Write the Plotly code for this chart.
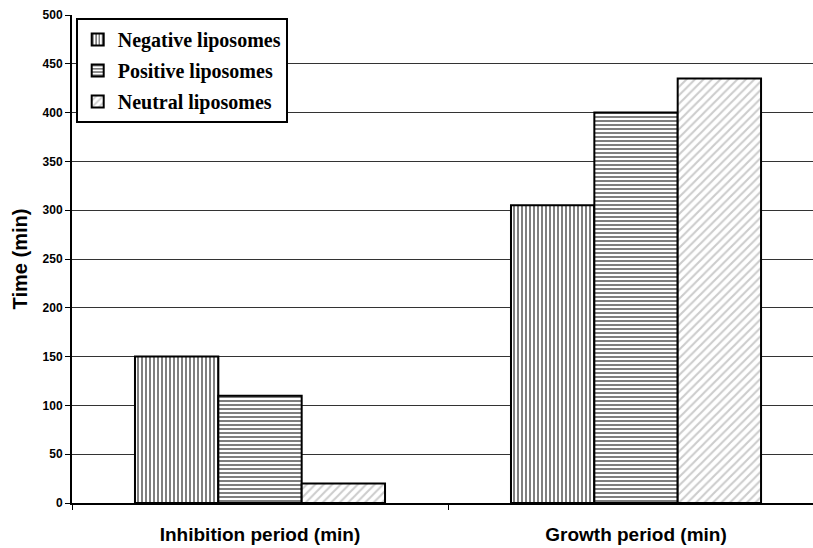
import plotly.graph_objects as go

# Measured periods for each liposome type
periods = ["Inhibition period (min)", "Growth period (min)"]
negative = [150, 305]
positive = [110, 400]
neutral = [20, 435]

series = [
    ("Negative liposomes", negative, dict(shape="|", fgcolor="black", bgcolor="white", size=4, solidity=0.5)),
    ("Positive liposomes", positive, dict(shape="-", fgcolor="black", bgcolor="white", size=4, solidity=0.5)),
    ("Neutral liposomes", neutral, dict(shape="/", fgcolor="#9a9a9a", bgcolor="white", size=6, solidity=0.35)),
]

fig = go.Figure()
for i, (name, vals, pat) in enumerate(series):
    fig.add_trace(go.Bar(
        name=name, x=periods, y=vals, legendgroup=f"g{i}",
        marker=dict(color="white", pattern=pat, line=dict(color="black", width=2)),
    ))

fig.update_layout(
    width=813, height=548,
    margin=dict(l=72, r=0, t=15, b=45),
    paper_bgcolor="white", plot_bgcolor="white",
    barmode="group", bargap=0.335, bargroupgap=0,
    showlegend=True,
    legend=dict(
        x=0.005, y=0.994, xanchor="left", yanchor="top",
        bgcolor="white", bordercolor="black", borderwidth=2,
        font=dict(family="Liberation Serif", size=20, color="black", weight="bold"),
        tracegroupgap=2, itemwidth=30,
    ),
    font=dict(family="Liberation Sans", color="black"),
)

fig.update_xaxes(
    range=[-0.5, 1.4707], showline=True, linecolor="black", linewidth=2,
    ticks="outside", tickson="boundaries", ticklen=5, tickcolor="black", tickwidth=1,
    tickfont=dict(family="Liberation Sans", size=19, color="black", weight="bold"),
    ticklabelstandoff=13, showgrid=False,
)
fig.update_yaxes(
    range=[0, 500], dtick=50, showline=True, linecolor="black", linewidth=2,
    ticks="outside", ticklen=5, tickcolor="black", tickwidth=1,
    tickfont=dict(family="Liberation Sans", size=12, color="black", weight="bold"),
    showgrid=True, gridcolor="#333333", gridwidth=1, zeroline=False,
    title=dict(text="Time (min)", font=dict(family="Liberation Sans", size=20, color="black", weight="bold"), standoff=10),
)

fig.write_html("out.html")
